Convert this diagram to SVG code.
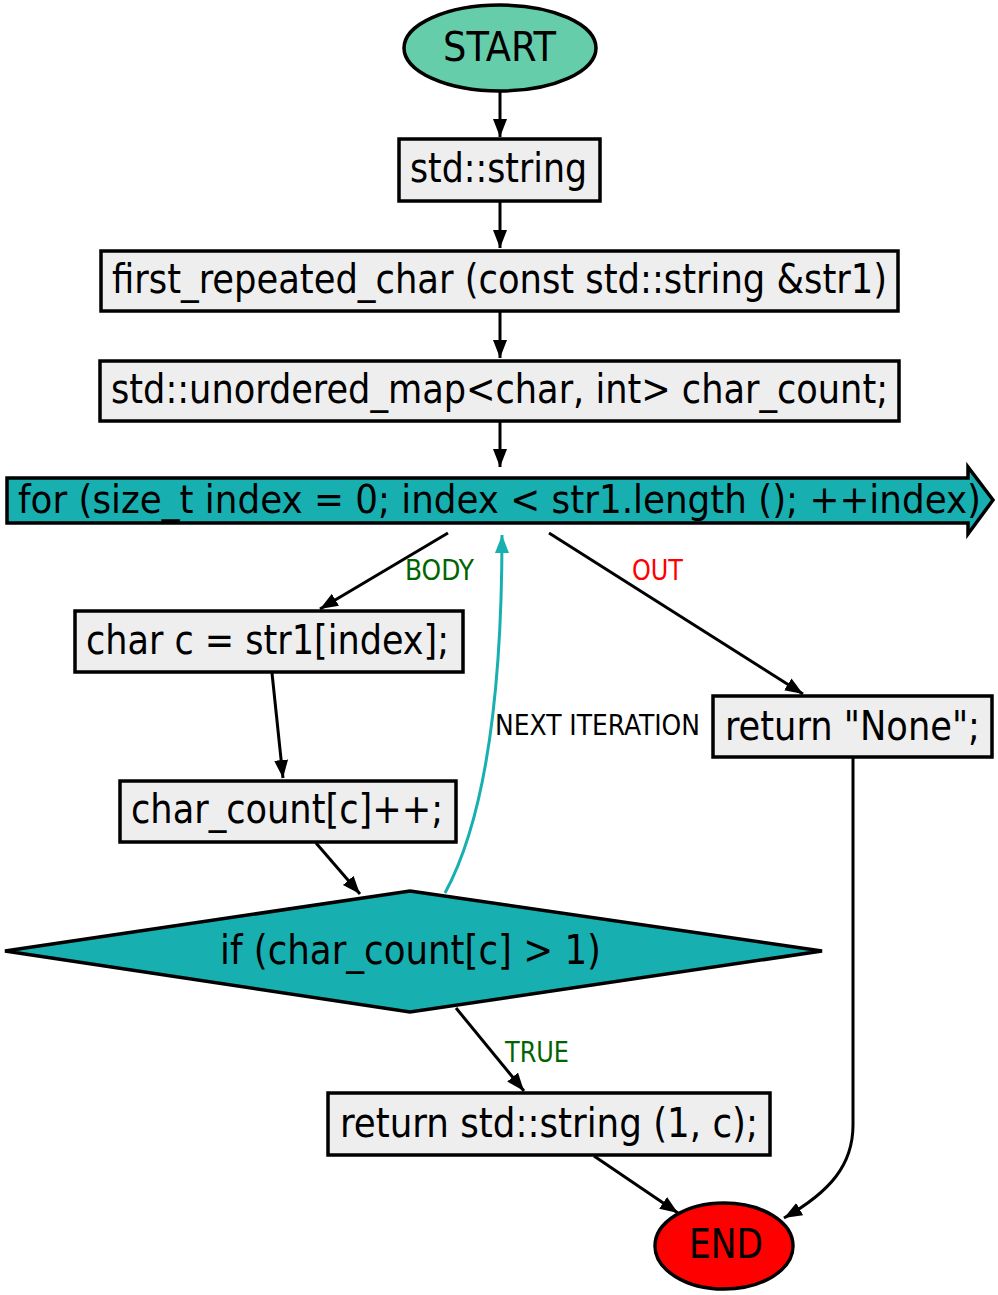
<svg xmlns="http://www.w3.org/2000/svg" width="998" height="1295" viewBox="0 0 998 1295">
<style>
  .t { font-family: "DejaVu Sans Condensed", "DejaVu Sans", sans-serif; font-stretch: condensed; font-size: 41px; fill: #000; text-anchor: start; }
  .l { font-family: "DejaVu Sans Condensed", "DejaVu Sans", sans-serif; font-stretch: condensed; font-size: 28px; }
  .box { fill: #eeeeee; stroke: #000; stroke-width: 3.5; }
  .edge { fill: none; stroke: #000; stroke-width: 3; }
  .loop { fill: none; stroke: #17afb0; stroke-width: 3; }
</style>
<defs>
  <marker id="ah" markerUnits="userSpaceOnUse" markerWidth="20" markerHeight="16" refX="18" refY="7" orient="auto">
    <path d="M0,0 L18,7 L0,14 z" fill="#000"/>
  </marker>
  <marker id="ahc" markerUnits="userSpaceOnUse" markerWidth="20" markerHeight="16" refX="18" refY="7" orient="auto">
    <path d="M0,0 L18,7 L0,14 z" fill="#17afb0"/>
  </marker>
</defs>
<rect width="998" height="1295" fill="#fff"/>
<g id="edges">
  <path class="edge" d="M500,92 L500,137" marker-end="url(#ah)"/>
  <path class="edge" d="M500,202 L500,248" marker-end="url(#ah)"/>
  <path class="edge" d="M500,312 L500,358" marker-end="url(#ah)"/>
  <path class="edge" d="M500,422 L500,467" marker-end="url(#ah)"/>
  <path class="edge" d="M448,533 L320,609" marker-end="url(#ah)"/>
  <path class="edge" d="M549,533 L803,694" marker-end="url(#ah)"/>
  <path class="edge" d="M272,673 L283,778" marker-end="url(#ah)"/>
  <path class="edge" d="M316,843 L360,894" marker-end="url(#ah)"/>
  <path class="loop" d="M445,893 C482,825 502,710 502,535" marker-end="url(#ahc)"/>
  <path class="edge" d="M456,1008 L524,1091" marker-end="url(#ah)"/>
  <path class="edge" d="M594,1156 L678,1213" marker-end="url(#ah)"/>
  <path class="edge" d="M853,758 L853,1125 C853,1165 830,1192 784,1218" marker-end="url(#ah)"/>
  <text class="l" x="405" y="580" fill="#006400" textLength="69" lengthAdjust="spacingAndGlyphs">BODY</text>
  <text class="l" x="632" y="580" fill="#ff0000" textLength="51" lengthAdjust="spacingAndGlyphs">OUT</text>
  <text class="l" x="495" y="735" fill="#000" textLength="205" lengthAdjust="spacingAndGlyphs">NEXT ITERATION</text>
  <text class="l" x="505" y="1062" fill="#006400" textLength="64" lengthAdjust="spacingAndGlyphs">TRUE</text>
</g>
<g id="start">
  <ellipse cx="500" cy="48" rx="96" ry="43" fill="#66cdaa" stroke="#000" stroke-width="3.5"/>
  <text class="t" x="443" y="61" textLength="113" lengthAdjust="spacingAndGlyphs">START</text>
</g>
<g id="ret_type">
  <rect class="box" x="399" y="139" width="201" height="62"/>
  <text class="t" x="410" y="182" textLength="177" lengthAdjust="spacingAndGlyphs">std::string</text>
</g>
<g id="func">
  <rect class="box" x="101" y="251" width="797" height="60"/>
  <text class="t" x="112" y="293" textLength="775" lengthAdjust="spacingAndGlyphs">first_repeated_char (const std::string &amp;str1)</text>
</g>
<g id="map">
  <rect class="box" x="100" y="361" width="799" height="60"/>
  <text class="t" x="111" y="403" textLength="777" lengthAdjust="spacingAndGlyphs">std::unordered_map&lt;char, int&gt; char_count;</text>
</g>
<g id="for">
  <polygon points="7,478 968,478 968,467 993,500 968,534 968,523 7,523" fill="#17afb0" stroke="#000" stroke-width="3.5"/>
  <text class="t" x="18" y="513" style="font-size:39px" textLength="963" lengthAdjust="spacingAndGlyphs">for (size_t index = 0; index &lt; str1.length (); ++index)</text>
</g>
<g id="charc">
  <rect class="box" x="75" y="611" width="388" height="61"/>
  <text class="t" x="86" y="654" textLength="363" lengthAdjust="spacingAndGlyphs">char c = str1[index];</text>
</g>
<g id="inc">
  <rect class="box" x="120" y="781" width="336" height="61"/>
  <text class="t" x="131" y="823" textLength="312" lengthAdjust="spacingAndGlyphs">char_count[c]++;</text>
</g>
<g id="if">
  <polygon points="410,891 822,951 410,1012 5,951" fill="#17afb0" stroke="#000" stroke-width="3.5"/>
  <text class="t" x="220" y="964" textLength="381" lengthAdjust="spacingAndGlyphs">if (char_count[c] &gt; 1)</text>
</g>
<g id="ret_c">
  <rect class="box" x="328" y="1093" width="442" height="62"/>
  <text class="t" x="340" y="1137" textLength="418" lengthAdjust="spacingAndGlyphs">return std::string (1, c);</text>
</g>
<g id="ret_none">
  <rect class="box" x="713" y="696" width="279" height="61"/>
  <text class="t" x="725" y="740" textLength="255" lengthAdjust="spacingAndGlyphs">return "None";</text>
</g>
<g id="end">
  <ellipse cx="724" cy="1246" rx="69" ry="43" fill="#ff0000" stroke="#000" stroke-width="3.5"/>
  <text class="t" x="689" y="1258" textLength="74" lengthAdjust="spacingAndGlyphs">END</text>
</g>
</svg>
